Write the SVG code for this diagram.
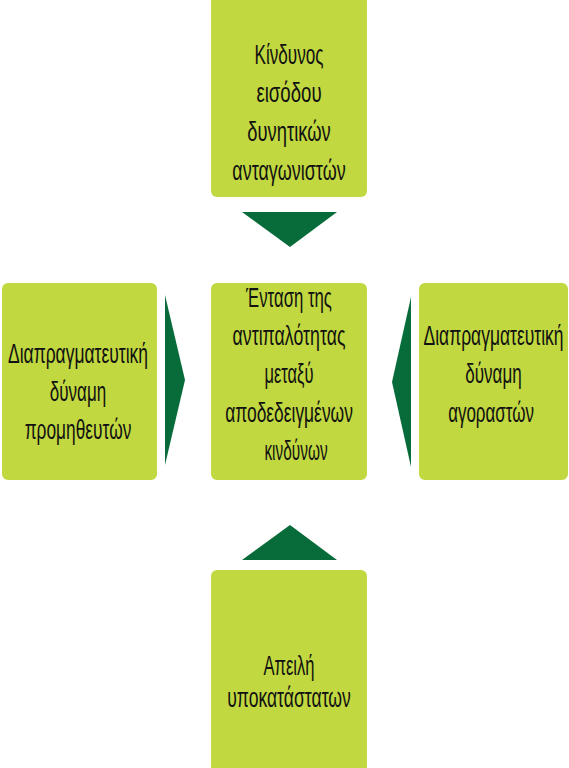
<svg xmlns="http://www.w3.org/2000/svg" width="569" height="768" viewBox="0 0 569 768">
<style>
.box{fill:#C1D840;}
.arr{fill:#086B3A;}
text{font-family:"Liberation Sans","DejaVu Sans",sans-serif;font-size:27px;fill:#111;text-anchor:middle;}
</style>
<rect width="569" height="768" fill="#fff"/>
<g id="top">
<rect class="box" x="211" y="-6" width="156" height="203" rx="6"/>
<text transform="translate(289,64) scale(0.634,1)">Κίνδυνος</text>
<text transform="translate(289,102) scale(0.69,1)">εισόδου</text>
<text transform="translate(289,141) scale(0.68,1)">δυνητικών</text>
<text transform="translate(289,180) scale(0.665,1)">ανταγωνιστών</text>
</g>
<g id="left">
<rect class="box" x="2" y="283" width="155" height="197" rx="6"/>
<text transform="translate(78,363) scale(0.647,1)">Διαπραγματευτική</text>
<text transform="translate(78,401) scale(0.63,1)">δύναμη</text>
<text transform="translate(78,439) scale(0.642,1)">προμηθευτών</text>
</g>
<g id="center">
<rect class="box" x="211" y="283" width="156" height="197" rx="6"/>
<text transform="translate(289,307) scale(0.62,1)">Ένταση της</text>
<text transform="translate(289,345) scale(0.657,1)">αντιπαλότητας</text>
<text transform="translate(289,383) scale(0.61,1)">μεταξύ</text>
<text transform="translate(289,422) scale(0.645,1)">αποδεδειγμένων</text>
<text transform="translate(296,460) scale(0.57,1)">κινδύνων</text>
</g>
<g id="right">
<rect class="box" x="419" y="283" width="149" height="197" rx="6"/>
<text transform="translate(493.5,345) scale(0.647,1)">Διαπραγματευτική</text>
<text transform="translate(493.5,383) scale(0.63,1)">δύναμη</text>
<text transform="translate(491,422) scale(0.628,1)">αγοραστών</text>
</g>
<g id="bottom">
<rect class="box" x="211" y="570" width="156" height="210" rx="6"/>
<text transform="translate(289,675) scale(0.615,1)">Απειλή</text>
<text transform="translate(289,707) scale(0.651,1)">υποκατάστατων</text>
</g>
<g id="connectors">
<polygon class="arr" points="242,212 337,212 290,247"/>
<polygon class="arr" points="165,295 185,380 165,465"/>
<polygon class="arr" points="411,297 392,382 411,467"/>
<polygon class="arr" points="242,560 337,560 290,525"/>
</g>
</svg>
